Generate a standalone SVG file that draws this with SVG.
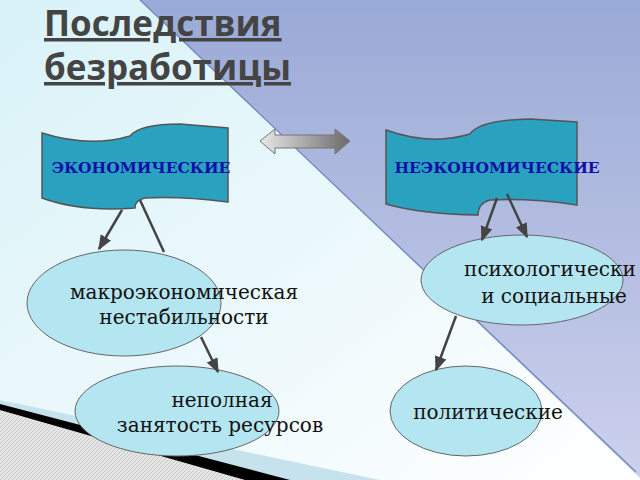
<svg xmlns="http://www.w3.org/2000/svg" width="640" height="480" viewBox="0 0 640 480">
<defs>
<linearGradient id="bgL" x1="0" y1="0" x2="1" y2="1"><stop offset="0" stop-color="#d8f2f8"/><stop offset="1" stop-color="#ffffff"/></linearGradient>
<linearGradient id="bgR" x1="0" y1="0" x2="0" y2="1"><stop offset="0" stop-color="#9aaad6"/><stop offset="1" stop-color="#ccd0ec"/></linearGradient>
<linearGradient id="arr" x1="0" y1="0" x2="1" y2="0"><stop offset="0" stop-color="#e8e8e8"/><stop offset="1" stop-color="#6a6a6a"/></linearGradient>
<pattern id="hatch" width="4" height="4" patternUnits="userSpaceOnUse"><rect width="4" height="4" fill="#e6e6e6"/><path d="M0 4L4 0" stroke="#b0b0b0" stroke-width="0.6"/></pattern>
<marker id="ah" viewBox="0 0 10 10" refX="9" refY="5" markerWidth="6" markerHeight="6" orient="auto"><path d="M0 1L10 5L0 9z" fill="#444"/></marker>
</defs>
<style>
.lbl{font-family:"DejaVu Serif","Liberation Serif",serif;font-size:20px;fill:#111}
.ban{font-family:"DejaVu Serif","Liberation Serif",serif;font-size:15.5px;font-weight:bold;fill:#1010a8}
.ell{fill:#b4e6f2;stroke:#666;stroke-width:1}
.flag{fill:#2aa2bf;stroke:#555;stroke-width:1.5}
.con{stroke:#444;stroke-width:2.5;fill:none}
.arrow{marker-end:url(#ah)}
.ttl{font-family:'Open Sans','DejaVu Sans',sans-serif;font-weight:bold;font-size:35px;fill:#444;text-decoration:underline}
</style>
<rect width="640" height="480" fill="url(#bgL)"/>
<polygon points="140,0 640,0 640,478" fill="url(#bgR)"/>
<line x1="140" y1="0" x2="636" y2="472" stroke="#6a86c0" stroke-width="1.2"/>
<polygon points="0,400 380,480 0,480" fill="#c6e2ec"/>
<polygon points="0,404 290,480 0,480" fill="#000"/>
<polygon points="0,410 245,480 0,480" fill="url(#hatch)"/>
<g id="title"><text class="ttl" x="44" y="36">Последствия</text>
<text class="ttl" x="44" y="80">безработицы</text></g>
<g id="exchange"><path d="M260,141 L275,129 L275,135 L335,135 L335,129 L350,141 L335,154 L335,148 L275,148 L275,154 Z" fill="url(#arr)" stroke="#777" stroke-width="1"/></g>
<g id="econ"><path class="flag" d="M42,133 Q90,148 130,136 Q140,124 180,124 L228,128 L228,202 Q180,196 145,198 Q135,200 135,208 Q80,212 42,198 Z"/><text class="ban" x="141" y="173" text-anchor="middle">ЭКОНОМИЧЕСКИЕ</text></g>
<g id="nonecon"><path class="flag" d="M386,130 Q430,146 470,134 Q480,120 530,119 L577,122 L577,205 Q530,198 490,200 Q478,203 478,215 Q420,214 386,204 Z"/><text class="ban" x="497" y="173" text-anchor="middle">НЕЭКОНОМИЧЕСКИЕ</text></g>
<g id="macro"><ellipse class="ell" cx="124" cy="303" rx="97" ry="53"/><text class="lbl" x="184" y="299" text-anchor="middle" font-size="21">макроэкономическая</text><text class="lbl" x="184" y="324" text-anchor="middle" font-size="21">нестабильности</text></g>
<g id="psych"><ellipse class="ell" cx="522" cy="280" rx="101" ry="45"/><text class="lbl" x="550" y="276" text-anchor="middle">психологически</text><text class="lbl" x="554" y="303" text-anchor="middle">и социальные</text></g>
<g id="partial"><ellipse class="ell" cx="177" cy="411" rx="102" ry="45"/><text class="lbl" x="222" y="407" text-anchor="middle">неполная</text><text class="lbl" x="220" y="432" text-anchor="middle">занятость ресурсов</text></g>
<g id="polit"><ellipse class="ell" cx="466" cy="411" rx="76" ry="45"/><text class="lbl" x="488" y="419" text-anchor="middle" font-size="19">политические</text></g>
<g id="connectors">
<line class="con arrow" x1="122" y1="210" x2="99" y2="249"/>
<line class="con" x1="140" y1="200" x2="164" y2="252"/>
<line class="con arrow" x1="201" y1="337" x2="218" y2="372"/>
<line class="con arrow" x1="497" y1="198" x2="482" y2="240"/>
<line class="con arrow" x1="507" y1="194" x2="527" y2="237"/>
<line class="con arrow" x1="456" y1="316" x2="436" y2="370"/>
</g>
</svg>
